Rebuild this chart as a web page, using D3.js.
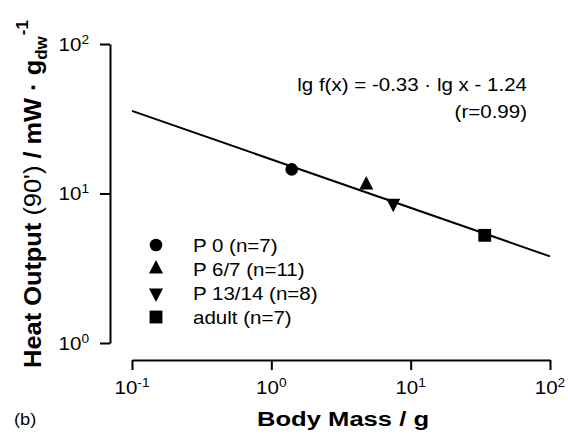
<!DOCTYPE html>
<html>
<head>
<meta charset="utf-8">
<script src="https://cdn.jsdelivr.net/npm/d3@7"></script>
<style>
  body { margin: 0; background: #fff; }
  svg { display: block; font-family: "Liberation Sans", Arial, sans-serif; }
</style>
</head>
<body>
<div id="chart"></div>
<script>
const WIDTH = 568;
const HEIGHT = 438;
const SX = 1.14; // the original text is slightly wide

// data
const GROUPS = ["P 0 (n=7)", "P 6/7 (n=11)", "P 13/14 (n=8)", "adult (n=7)"];
const SYMBOLS = ["circle", "up", "down", "square"];
const BODY_MASS = [1.4, 4.8, 7.5, 34];
const HEAT_OUTPUT = [14.5, 11.4, 8.6, 5.25];
const FIT_X = [0.1, 100];
const FIT_Y = [35.7, 3.8];
const X_TICKS = [0.1, 1, 10, 100];
const X_EXP = ["-1", "0", "1", "2"];
const Y_TICKS = [1, 10, 100];
const Y_EXP = ["0", "1", "2"];

const svg = d3.select("#chart")
  .append("svg")
  .attr("width", WIDTH)
  .attr("height", HEIGHT);

const xScale = d3.scaleLog().domain([0.1, 100]).range([132, 550]);
const yScale = d3.scaleLog().domain([1, 100]).range([343, 44]);

// text placed at (x, y) and stretched horizontally
function addText(x, y, anchor, size, sx) {
  return svg.append("text")
    .attr("transform", `translate(${x}, ${y}) scale(${sx || SX}, 1)`)
    .attr("text-anchor", anchor)
    .style("font-size", size + "px");
}

// axes (detached, like the original)
const xAxisG = svg.append("g")
  .attr("transform", "translate(0, 360)")
  .call(d3.axisBottom(xScale).tickValues(X_TICKS).tickSize(10).tickSizeOuter(0).tickFormat(""));
const yAxisG = svg.append("g")
  .attr("transform", "translate(110, 0)")
  .call(d3.axisLeft(yScale).tickValues(Y_TICKS).tickSize(10).tickSizeOuter(0).tickFormat(""));

[xAxisG, yAxisG].forEach(g => {
  g.select(".domain").attr("stroke", "#000").attr("stroke-width", 2);
  g.selectAll(".tick line").attr("stroke", "#000").attr("stroke-width", 2);
});

// tick labels with superscript exponents
X_TICKS.forEach((v, i) => {
  const t = addText(xScale(v), 394, "middle", 18);
  t.append("tspan").text("10");
  t.append("tspan").attr("dy", -7).style("font-size", "12px").text(X_EXP[i]);
});

Y_TICKS.forEach((v, i) => {
  const t = addText(89, yScale(v) + 6.5, "end", 18);
  t.append("tspan").text("10");
  t.append("tspan").attr("dy", -7).style("font-size", "12px").text(Y_EXP[i]);
});

// regression line
const line = d3.line()
  .x(d => xScale(d[0]))
  .y(d => yScale(d[1]));
svg.append("path")
  .datum(FIT_X.map((x, i) => [x, FIT_Y[i]]))
  .attr("d", line)
  .attr("fill", "none")
  .attr("stroke", "#000")
  .attr("stroke-width", 2);

function symbolPath(kind) {
  if (kind === "circle") return d3.symbol(d3.symbolCircle, 125)();
  if (kind === "square") return d3.symbol(d3.symbolSquare, 165)();
  return d3.symbol(d3.symbolTriangle, 85)();
}
function symbolRot(kind) {
  if (kind === "down") return " rotate(180) scale(1, 1.1)";
  if (kind === "up") return " scale(1, 1.1)";
  return "";
}

// data points
svg.append("g")
  .selectAll("path")
  .data(GROUPS)
  .enter()
  .append("path")
  .attr("d", (d, i) => symbolPath(SYMBOLS[i]))
  .attr("transform", (d, i) => `translate(${xScale(BODY_MASS[i])}, ${yScale(HEAT_OUTPUT[i])})${symbolRot(SYMBOLS[i])}`)
  .attr("fill", "#000");

// legend
GROUPS.forEach((g, i) => {
  const cy = 245 + i * 24;
  svg.append("path")
    .attr("d", symbolPath(SYMBOLS[i]))
    .attr("transform", `translate(156, ${cy})${symbolRot(SYMBOLS[i])}`)
    .attr("fill", "#000");
  addText(193, cy + 6.5, "start", 18).text(g);
});

// equation
addText(527, 91, "end", 18).text("lg f(x) = -0.33 \u00b7 lg x - 1.24");
addText(527, 118, "end", 18).text("(r=0.99)");

// axis titles
addText(343, 426, "middle", 21, 1.22)
  .style("font-weight", "bold")
  .text("Body Mass / g");

const yt = svg.append("text")
  .attr("transform", "translate(41, 194) rotate(-90) scale(1.21, 1.15)")
  .attr("text-anchor", "middle")
  .style("font-size", "21px")
  .style("font-weight", "bold");
yt.append("tspan").text("Heat Output ");
yt.append("tspan").style("font-weight", "normal").text("(90') ");
yt.append("tspan").text("/ mW \u00b7 g");
yt.append("tspan").attr("dy", 5).style("font-size", "14px").text("dw");
yt.append("tspan").attr("dy", -16).attr("dx", 1).style("font-size", "14px").text("-1");

addText(14, 425, "start", 16).text("(b)");
</script>
</body>
</html>
